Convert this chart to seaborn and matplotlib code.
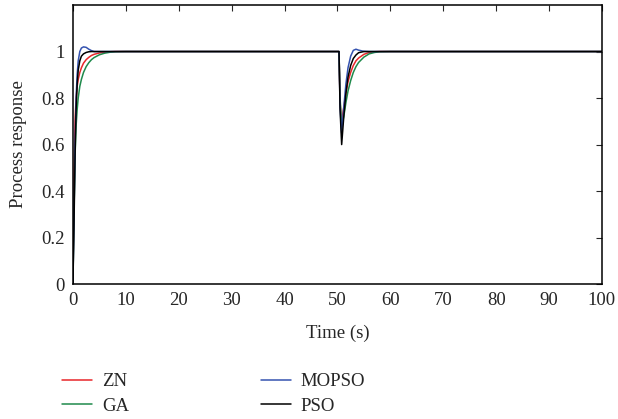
import numpy as np
import pandas as pd
import matplotlib
matplotlib.use("Agg")
import matplotlib.pyplot as plt
import seaborn as sns
from matplotlib.lines import Line2D

# time samples (s)
t_start = [0, 0.2, 0.4, 0.6, 0.8, 1.0, 1.3, 1.6, 2.0, 2.5, 3.0, 3.5, 4.0, 5.0, 6.0, 7.0, 8.0, 10.0]
t_dip = [50.0, 50.3, 50.5, 50.8, 51.2, 51.6, 52.0, 52.5, 53.0, 53.5, 54.0, 55.0, 56.0, 57.0, 58.0, 60.0]
t_end = [100.0]

zn_start = [0, 0.45, 0.70, 0.80, 0.85, 0.88, 0.91, 0.93, 0.95, 0.965, 0.975, 0.983, 0.988, 0.994, 0.997, 0.999, 1.0, 1.0]
ga_start = [0, 0.30, 0.55, 0.68, 0.75, 0.80, 0.85, 0.88, 0.91, 0.935, 0.952, 0.965, 0.974, 0.986, 0.993, 0.997, 0.999, 1.0]
mopso_start = [0, 0.30, 0.60, 0.80, 0.90, 0.96, 1.00, 1.015, 1.02, 1.018, 1.01, 1.004, 1.0, 1.0, 1.0, 1.0, 1.0, 1.0]
pso_start = [0, 0.25, 0.55, 0.75, 0.86, 0.92, 0.96, 0.98, 0.99, 0.996, 0.999, 1.0, 1.0, 1.0, 1.0, 1.0, 1.0, 1.0]

zn_dip = [1, 1.0, 0.78, 0.70, 0.76, 0.82, 0.87, 0.91, 0.94, 0.96, 0.972, 0.988, 0.996, 0.999, 1.0, 1.0]
ga_dip = [1, 1.0, 0.80, 0.68, 0.72, 0.78, 0.83, 0.875, 0.91, 0.935, 0.953, 0.976, 0.99, 0.996, 0.999, 1.0]
mopso_dip = [1, 1.0, 0.76, 0.65, 0.76, 0.86, 0.93, 0.98, 1.005, 1.01, 1.006, 1.001, 1.0, 1.0, 1.0, 1.0]
pso_dip = [1, 1.0, 0.75, 0.60, 0.72, 0.82, 0.89, 0.94, 0.97, 0.985, 0.995, 1.0, 1.0, 1.0, 1.0, 1.0]

end_val = [1.0]

series_names = ["ZN", "GA", "MOPSO", "PSO"]
colors = ["#e8262a", "#1f8a4c", "#3553b0", "#000000"]
x_ticks = [0, 10, 20, 30, 40, 50, 60, 70, 80, 90, 100]
y_ticks = [0, 0.2, 0.4, 0.6, 0.8, 1]
y_ticklabels = ["0", "0.2", "0.4", "0.6", "0.8", "1"]

time = t_start + t_dip + t_end
values = {
    "ZN": zn_start + zn_dip + end_val,
    "GA": ga_start + ga_dip + end_val,
    "MOPSO": mopso_start + mopso_dip + end_val,
    "PSO": pso_start + pso_dip + end_val,
}
rows = []
for name in series_names:
    for tt, v in zip(time, values[name]):
        rows.append({"Time": tt, "Response": v, "Method": name})
df = pd.DataFrame(rows)

sns.set_style("white")
plt.rcParams["font.family"] = ["Liberation Serif", "DejaVu Serif"]

fig = plt.figure(figsize=(6.18, 4.19), dpi=100)
ax = fig.add_axes([0.118, 0.322, 0.856, 0.666])

sns.lineplot(data=df, x="Time", y="Response", hue="Method", hue_order=series_names,
             palette=colors, estimator=None, sort=False, linewidth=1.1, ax=ax, legend=False)

ax.set_xlim(0, 100)
ax.set_ylim(0, 1.2)
ax.set_xticks(x_ticks)
ax.set_xticklabels([str(v) for v in x_ticks], fontsize=13.5)
ax.set_yticks(y_ticks)
ax.set_yticklabels(y_ticklabels, fontsize=13.5)
ax.tick_params(direction="in", top=True, right=True, length=4, width=0.8, pad=6)
for s in ax.spines.values():
    s.set_linewidth(1.1)
    s.set_color("black")
ax.set_xlabel("Time (s)", fontsize=13.5, labelpad=11)
ax.set_ylabel("Process response", fontsize=13.5, labelpad=10)

handles = [Line2D([0], [0], color=c, lw=1.1) for c in colors]
fig.legend(handles, series_names, loc="lower left", bbox_to_anchor=(0.073, -0.03),
           ncol=2, frameon=False, fontsize=13.5, handlelength=1.6, columnspacing=7.0,
           labelspacing=0.38, handletextpad=0.55)

fig.savefig("out.png", dpi=100)
